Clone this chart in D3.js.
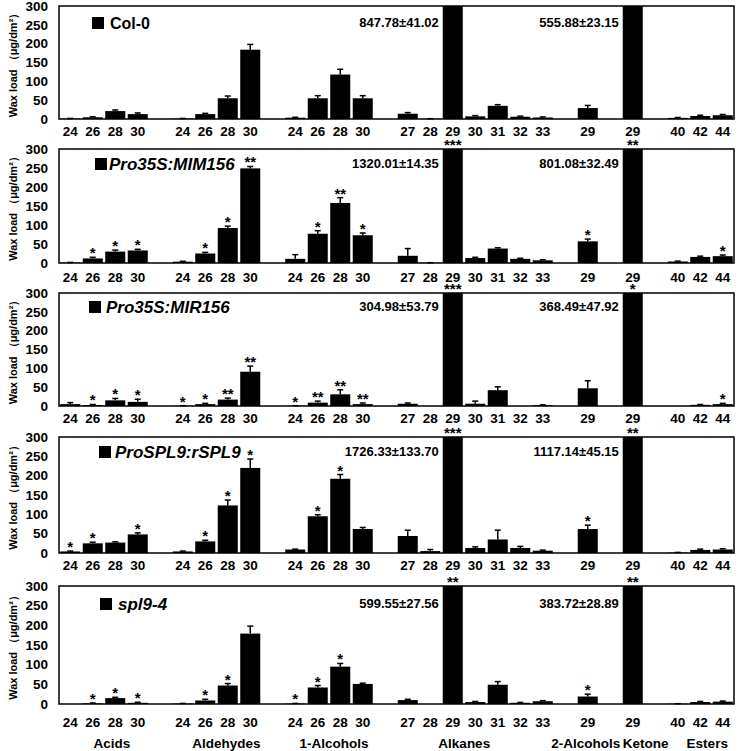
<!DOCTYPE html>
<html><head><meta charset="utf-8">
<script src="https://cdn.jsdelivr.net/npm/d3@7"></script>
<style>
body{margin:0;background:#fff}
svg{display:block}
text{font-family:"Liberation Sans",Arial,sans-serif;font-weight:bold;fill:#000}
</style>
</head><body><svg id="chart" width="739" height="751"></svg>
<script>
// ---------- data ----------
const chainLabels = ["24","26","28","30","","24","26","28","30","","24","26","28","30","","27","28","29","30","31","32","33","","29","","29","","40","42","44"];
const classNames = ["Acids","Aldehydes","1-Alcohols","Alkanes","2-Alcohols","Ketone","Esters"];
const genotypes = ["Col-0","Pro35S:MIM156","Pro35S:MIR156","ProSPL9:rSPL9","spl9-4"];
const italicName = [false,true,true,true,true];
const yTicks = [0,50,100,150,200,250,300];

const col0Values = [1,4.5,21,13,null, 1,13,55,184,null, 3.5,55,118,55,null, 14,0.5,847.78,7,35,6,4,null, 29,null, 555.88,null, 3,8,10];
const col0Errors = [0.5,1.5,3,3,null, 0.5,2,6,14,null, 1,7,14,7,null, 3,0.3,41.02,2,3,1.5,1.5,null, 7,null, 23.15,null, 1,2,2];
const col0Stars  = ["","","","","", "","","","","", "","","","","", "","","","","","","","", "","", "","", "","",""];

const mimValues = [1,12,30,33,null, 3.5,25,92,249,null, 11,77,158,73,null, 19,0.5,1320.01,13,38,11,7,null, 57,null, 801.08,null, 4,16,18];
const mimErrors = [0.5,3,4,3,null, 1,3,5,5,null, 11,8,14,6,null, 19,0.3,14.35,2,2,1.5,1.5,null, 6,null, 32.49,null, 1,2,3];
const mimStars  = ["","*","*","*","", "","*","*","**","", "","*","**","*","", "","","***","","","","","", "*","", "**","", "","","*"];

const mirValues = [5,2.5,15,11,null, 0.5,5,17,91,null, 0.5,9,31,5,null, 6,0,304.98,6,42,0,2,null, 47,null, 368.49,null, 0,3,5];
const mirErrors = [4,1.5,5,7,null, 0.3,2,4,15,null, 0.3,4,12,3,null, 2,0,53.79,7,9,0,1,null, 20,null, 47.92,null, 0,1,2];
const mirStars  = ["","*","*","*","", "*","*","**","**","", "*","**","**","**","", "","","***","","","","","", "","", "*","", "","","*"];

const rsplValues = [4,25,27,48,null, 4,30,123,220,null, 9,95,192,62,null, 44,5,1726.33,13,35,13,6,null, 62,null, 1117.14,null, 1,8,9];
const rsplErrors = [1,3,2,4,null, 1,3,14,23,null, 1,4,11,4,null, 15,4,133.70,3,24,4,1.5,null, 10,null, 45.15,null, 0.5,2,2];
const rsplStars  = ["*","*","","*","", "","*","*","*","", "","*","*","","", "","","***","","","","","", "*","", "**","", "","",""];

const splValues = [0,1.5,15,3,null, 1,9,47,179,null, 1,42,95,51,null, 10,0,599.55,5,49,3,7,null, 19,null, 383.72,null, 0.5,5,6];
const splErrors = [0,1,2,1.5,null, 0.5,3,5,19,null, 0.5,5,8,2,null, 2,0,27.56,1.5,8,1,1.5,null, 6,null, 28.89,null, 0.3,1.5,1.5];
const splStars  = ["","*","*","*","", "","*","*","","", "*","*","*","","", "","","**","","","","","", "*","", "**","", "","",""];

const panelValues = [col0Values, mimValues, mirValues, rsplValues, splValues];
const panelErrors = [col0Errors, mimErrors, mirErrors, rsplErrors, splErrors];
const panelStars  = [col0Stars, mimStars, mirStars, rsplStars, splStars];

// ---------- layout ----------
const left = 59, right = 734;
const panelTop  = [6,149,293,437,586];
const panelZero = [119,263,406,553,704];
const labelBase = [17,19,17,17,23];
const legendDy  = [17,15,14,15,18];
const legendSqX = [92,95,89,99,100];
const legendTxX = [110,109,106,115,118];
const classDx   = [8,10,5,-11,-2,13,7];
const yMax = 300;

const svg = d3.select("#chart");
const x = d3.scaleBand().domain(d3.range(chainLabels.length)).range([left, right])
  .paddingInner(0.11).paddingOuter(0.055);
const bw = x.bandwidth();

// groups of slots split by empty labels
const groups = [];
let cur = [];
chainLabels.forEach((l, i) => {
  if (l === "") { if (cur.length) groups.push(cur); cur = []; }
  else cur.push(i);
});
if (cur.length) groups.push(cur);

panelValues.forEach((vals, p) => {
  const top = panelTop[p], zero = panelZero[p];
  const y = d3.scaleLinear().domain([0, yMax]).range([zero, top]).clamp(true);
  const g = svg.append("g");
  const errs = panelErrors[p], stars = panelStars[p];
  const idx = d3.range(vals.length).filter(i => vals[i] !== null);

  // bars
  g.selectAll("rect.bar").data(idx).join("rect")
    .attr("x", i => x(i)).attr("width", bw)
    .attr("y", i => y(vals[i])).attr("height", i => zero - y(vals[i]))
    .attr("fill", "#000");

  // error bars (only for bars within range)
  const errIdx = idx.filter(i => vals[i] <= yMax && errs[i] > 0);
  g.selectAll("line.err").data(errIdx).join("line")
    .attr("x1", i => x(i) + bw / 2).attr("x2", i => x(i) + bw / 2)
    .attr("y1", i => y(vals[i])).attr("y2", i => y(vals[i] + errs[i]))
    .attr("stroke", "#000").attr("stroke-width", 1.5);
  g.selectAll("line.cap").data(errIdx).join("line")
    .attr("x1", i => x(i) + bw / 2 - 3).attr("x2", i => x(i) + bw / 2 + 3)
    .attr("y1", i => y(vals[i] + errs[i])).attr("y2", i => y(vals[i] + errs[i]))
    .attr("stroke", "#000").attr("stroke-width", 1.5);

  // frame
  g.append("rect").attr("x", left).attr("y", top)
    .attr("width", right - left).attr("height", zero - top)
    .attr("fill", "none").attr("stroke", "#000").attr("stroke-width", 1.5);

  // y axis
  const ya = g.append("g").attr("transform", `translate(${left},0)`)
    .call(d3.axisLeft(y).tickValues(yTicks).tickSize(0).tickPadding(11));
  ya.select(".domain").remove();
  ya.selectAll("text").style("font-size", "13.5px").style("font-weight", "bold")
    .style("font-family", '"Liberation Sans",Arial,sans-serif');

  // x tick labels
  const xa = g.append("g").attr("transform", `translate(0,${zero})`)
    .call(d3.axisBottom(x).tickFormat(i => chainLabels[i]).tickSize(0).tickPadding(labelBase[p] - 9.6));
  xa.select(".domain").remove();
  xa.selectAll("text").style("font-size", "13.5px").style("font-weight", "bold")
    .style("font-family", '"Liberation Sans",Arial,sans-serif');

  // y title
  g.append("text")
    .attr("transform", `translate(13,${(top + zero) / 2}) rotate(-90)`)
    .attr("text-anchor", "middle").attr("dominant-baseline", "central")
    .style("font-size", "11px").text("Wax load （μg/dm²）");

  // legend
  const ly = top + legendDy[p];
  g.append("rect").attr("x", legendSqX[p]).attr("y", ly - 6).attr("width", 12).attr("height", 12).attr("fill", "#000");
  g.append("text").attr("x", legendTxX[p]).attr("y", ly + 6)
    .style("font-size", italicName[p] ? "17px" : "16px")
    .style("font-style", italicName[p] ? "italic" : "normal")
    .text(genotypes[p]);

  // totals for off-scale bars
  const bigIdx = idx.filter(i => vals[i] > yMax);
  g.selectAll("text.total").data(bigIdx).join("text")
    .attr("x", i => x(i) - 4).attr("y", ly + 4)
    .attr("text-anchor", "end").style("font-size", "13px")
    .text(i => `${vals[i].toFixed(2)}±${errs[i].toFixed(2)}`);

  // stars
  const starIdx = idx.filter(i => stars[i] !== "");
  g.selectAll("text.star").data(starIdx).join("text")
    .attr("x", i => x(i) + bw / 2)
    .attr("y", i => vals[i] > yMax ? top + 1 : y(vals[i] + errs[i]) + 1)
    .attr("text-anchor", "middle").style("font-size", "15px")
    .text(i => stars[i]);
});

// class labels
svg.selectAll("text.cls").data(groups).join("text")
  .attr("x", (gr, k) => (x(gr[0]) + x(gr[gr.length - 1]) + bw) / 2 + classDx[k])
  .attr("y", 748).attr("text-anchor", "middle").style("font-size", "13.5px")
  .text((gr, k) => classNames[k]);
</script>
</body></html>
